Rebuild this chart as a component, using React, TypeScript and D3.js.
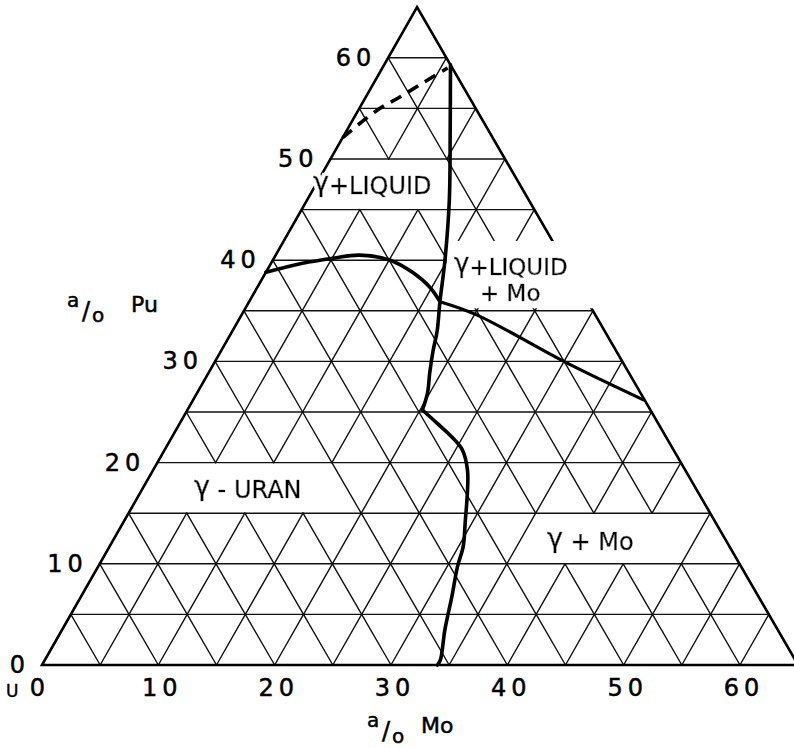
import React from "react";
import * as d3 from "d3";

const W = 794;
const H = 748;

// Isothermal section of U–Mo–Pu, Mo and Pu in a/o (0–65)
const AXIS_MAX = 65;
const GRID_STEP = 5;
const moTicks = [0, 10, 20, 30, 40, 50, 60];
const puTicks = [0, 10, 20, 30, 40, 50, 60];

type TP = [number, number]; // [a/o Mo, a/o Pu]

// γ / γ+liquid boundary
const liquidus: TP[] = [
  [0.0, 38.8], [2.7, 39.7], [5.1, 40.2], [7.2, 40.5], [10.1, 40.0],
  [12.6, 38.8], [14.8, 37.35], [16.4, 35.9],
];
// γ / γ+Mo boundary, upper branch down to the kink
const solvusUpper: TP[] = [
  [5.7, 59.3], [8.9, 52.8], [12.2, 46.0], [14.8, 40.0], [16.4, 35.9],
  [17.6, 33.0], [18.2, 31.1], [19.0, 28.9], [19.8, 26.9], [20.2, 25.2],
];
// lower branch from the kink down to the U–Mo side
const solvusLower: TP[] = [
  [20.2, 25.2], [22.1, 23.9], [24.1, 22.5], [25.6, 21.25], [27.0, 19.3],
  [28.0, 17.3], [29.3, 14.3], [30.4, 11.7], [30.9, 9.7], [31.9, 6.7],
  [32.9, 3.5], [34.0, 0.5], [34.0, 0.0],
];
// γ+liquid+Mo / γ+Mo boundary
const tieLine: TP[] = [[16.4, 35.9], [20.2, 34.6], [30.3, 29.85], [38.7, 26.2]];
// tentative liquidus (dashed)
const dashedCurve: TP[] = [[0.0, 52.1], [1.6, 54.8], [2.9, 56.1], [4.2, 57.5], [5.6, 59.0]];

// Projection: origin at pure U, Mo along the base, Pu up the left side
const xMo = d3.scaleLinear().domain([0, AXIS_MAX]).range([42, 42 + AXIS_MAX * 11.633]);
const xPuShift = d3.scaleLinear().domain([0, AXIS_MAX]).range([0, AXIS_MAX * 5.77]);
const yPu = d3.scaleLinear().domain([0, AXIS_MAX]).range([665, 665 - AXIS_MAX * 10.12]);
const proj = (m: number, p: number): [number, number] => [xMo(m) + xPuShift(p), yPu(p)];

// Cleared cells behind field labels
const clearedCells = [
  (m: number, p: number) => p > 15 && p < 20 && m > 0 && m + p < 35, // γ-URAN
  (m: number, p: number) => p > 10 && p < 15 && m > 35 && m < 50, // γ+Mo
  (m: number, p: number) => p > 45 && p < 50 && m > 0 && m + 0.496 * p < 35, // γ+LIQUID
];

function gridSegments() {
  const segs: [TP, TP][] = [];
  const n = AXIS_MAX / GRID_STEP;
  for (let i = 0; i <= n; i++) {
    for (let j = 0; i + j <= n; j++) {
      const m = i * GRID_STEP;
      const p = j * GRID_STEP;
      if (i + j + 1 <= n) {
        segs.push([[m, p], [m + GRID_STEP, p]]);
        segs.push([[m, p], [m, p + GRID_STEP]]);
        segs.push([[m + GRID_STEP, p], [m, p + GRID_STEP]]);
      }
    }
  }
  return segs.filter(([a, b]) => {
    const mm = (a[0] + b[0]) / 2;
    const mp = (a[1] + b[1]) / 2;
    return !clearedCells.some((f) => f(mm, mp));
  });
}

const line = d3
  .line<TP>()
  .x((d) => proj(d[0], d[1])[0])
  .y((d) => proj(d[0], d[1])[1])
  .curve(d3.curveCatmullRom.alpha(0.5));

const FONT = "'DejaVu Sans', sans-serif";

function FieldLabel({
  x, y, gamma, rest, size = 24,
}: { x: number; y: number; gamma?: string; rest: string; size?: number }) {
  return (
    <text
      x={x}
      y={y}
      fontFamily={FONT}
      fontSize={size}
      fill="#000"
      stroke="#000"
      strokeWidth={0.6}
      filter="url(#halo)"
    >
      {gamma ? (
        <>
          <tspan fontSize={size + 3} dy={-3}>{gamma}</tspan>
          <tspan dy={3}>{rest}</tspan>
        </>
      ) : (
        rest
      )}
    </text>
  );
}

export default function App() {
  const segs = gridSegments();
  const corners: TP[] = [[0, 0], [AXIS_MAX, 0], [0, AXIS_MAX]];
  const outline = corners.map((c) => proj(c[0], c[1]).join(",")).join(" ");

  // white-out block behind the γ+LIQUID+Mo label
  const [kx0, ky0] = proj(14.0, 41.9);
  const ky1 = yPu(35.25);

  return (
    <svg
      width={W}
      height={H}
      style={{ position: "absolute", left: 0, top: 0, background: "#fff" }}
    >
      <defs>
        <filter id="halo" x="-10%" y="-40%" width="120%" height="180%">
          <feMorphology in="SourceAlpha" operator="dilate" radius={3} result="wide" />
          <feFlood floodColor="#fff" result="white" />
          <feComposite in="white" in2="wide" operator="in" result="ring" />
          <feMerge>
            <feMergeNode in="ring" />
            <feMergeNode in="SourceGraphic" />
          </feMerge>
        </filter>
      </defs>
      <rect x={0} y={0} width={W} height={H} fill="#fff" />
      <g stroke="#111" strokeWidth={1.4} strokeLinecap="round">
        {segs.map(([a, b], i) => {
          const [x1, y1] = proj(a[0], a[1]);
          const [x2, y2] = proj(b[0], b[1]);
          return <line key={i} x1={x1} y1={y1} x2={x2} y2={y2} />;
        })}
      </g>
      <polygon points={outline} fill="none" stroke="#000" strokeWidth={2.6} strokeLinejoin="miter" />
      <rect x={kx0} y={ky0} width={W - kx0} height={ky1 - ky0} fill="#fff" />

      <g fill="none" stroke="#000" strokeWidth={3.6} strokeLinecap="round" strokeLinejoin="round">
        <path d={line(liquidus) ?? ""} />
        <path d={line(solvusUpper) ?? ""} />
        <path d={line(solvusLower) ?? ""} />
        <path d={line(tieLine) ?? ""} strokeWidth={3.2} />
        <path d={line(dashedCurve) ?? ""} strokeDasharray="12 8" strokeLinecap="butt" />
      </g>

      {/* Mo tick labels */}
      <g fontFamily={FONT} fontSize={24} fill="#000" stroke="#000" strokeWidth={0.5} textAnchor="middle" letterSpacing={5}>
        {moTicks.map((t) => {
          const [x] = proj(t, 0);
          return (
            <text key={t} x={x + 4 - (t === 0 ? 6 : 0)} y={696}>
              {t}
            </text>
          );
        })}
      </g>
      {/* Pu tick labels */}
      <g fontFamily={FONT} fontSize={24} fill="#000" stroke="#000" strokeWidth={0.5} textAnchor="end" letterSpacing={5}>
        {puTicks.map((t) => {
          const [x, y] = proj(0, t);
          return (
            <text key={t} x={x - 12} y={y + 8}>
              {t}
            </text>
          );
        })}
      </g>
      <text x={6} y={697} fontFamily={FONT} fontSize={17} fill="#000" stroke="#000" strokeWidth={0.4}>U</text>

      {/* axis titles */}
      <g fontFamily={FONT} fill="#000" stroke="#000" strokeWidth={0.5}>
        <text x={67} y={307} fontSize={20}>a</text>
        <text x={82} y={319} fontSize={24}>/</text>
        <text x={92} y={322} fontSize={20}>o</text>
        <text x={131} y={312} fontSize={22}>Pu</text>

        <text x={367} y={727} fontSize={20}>a</text>
        <text x={382} y={739} fontSize={24}>/</text>
        <text x={392} y={743} fontSize={20}>o</text>
        <text x={421} y={733} fontSize={22}>Mo</text>
      </g>

      {/* phase fields */}
      <FieldLabel x={313} y={194} gamma="γ" rest="+LIQUID" />
      <FieldLabel x={454} y={275} gamma="γ" rest="+LIQUID" size={23} />
      <FieldLabel x={480} y={301} rest="+ Mo" size={23} />
      <FieldLabel x={194} y={498} gamma="γ" rest=" - URAN" />
      <FieldLabel x={547} y={550} gamma="γ" rest=" + Mo" />
    </svg>
  );
}
